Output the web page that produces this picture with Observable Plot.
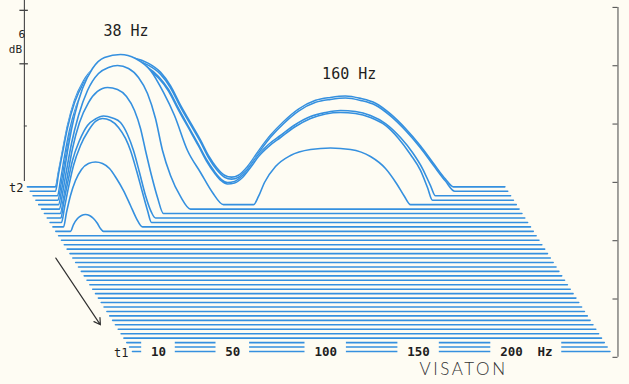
<!DOCTYPE html>
<html><head><meta charset="utf-8">
<script src="https://cdn.jsdelivr.net/npm/d3@7"></script>
<script src="https://cdn.jsdelivr.net/npm/@observablehq/plot@0.6"></script>
<style>
html,body{margin:0;padding:0;background:#fefcf3;}
#chart svg{display:block}
#chart svg text{font-feature-settings:"zero" 1;font-variant-numeric:slashed-zero;}
</style></head><body><div id="chart"></div>
<script>
// ---------- data (frequency in Hz, level in dB above each slice's floor) ----------
const sliceCount = 38;            // time slices, t1 (front) ... t2 (back)
const freqSpan = [-4, 253];       // frequency span of every slice
// slices counted from the back (t2); the rest are flat
const backSlice0 = [[11.1,0],[12.7,1.5],[14.9,3.7],[17.6,6.3],[21.4,8.9],[26.2,10.9],[32.7,12.4],[39.7,13.1],[47.2,13.3],[54.2,13.2],[61.2,12.7],[67.6,11.8],[73.0,10.4],[78.4,8.4],[83.8,6.6],[89.2,4.8],[93.5,3.2],[97.8,2.0],[102.1,1.2],[105.9,1.0],[109.6,1.2],[114.5,2.1],[120.4,3.7],[126.8,5.3],[133.8,6.7],[141.9,8.0],[151.1,8.9],[159.1,9.2],[167.2,9.35],[175.3,9.1],[183.4,8.6],[191.4,7.5],[199.5,6.0],[207.6,4.2],[214.6,2.4],[221.0,0.8],[225.3,0]];
const backSlice1 = [[9.6,0],[11.2,1.75],[13.4,3.95],[16.1,6.55],[19.9,9.15],[24.7,11.15],[31.2,12.65],[38.2,13.35],[45.7,13.55],[52.7,13.45],[59.7,12.95],[66.1,12.05],[71.5,10.65],[76.9,8.65],[82.3,6.85],[87.7,5.05],[92.0,3.45],[96.3,2.25],[100.6,1.45],[104.4,1.25],[108.1,1.45],[113.0,2.35],[118.9,3.95],[125.3,5.55],[132.3,6.95],[140.4,8.25],[149.6,9.15],[157.6,9.45],[165.7,9.6],[173.8,9.35],[181.9,8.85],[189.9,7.75],[198.0,6.25],[206.1,4.45],[213.1,2.65],[219.5,1.05],[224.5,0]];
const backSlice2 = [[9.15,0],[10.76,1.57],[12.92,4.04],[15.61,6.71],[19.38,9.28],[24.22,11.34],[30.68,12.78],[37.67,13.61],[44.13,13.81],[51.13,13.71],[57.59,13.19],[63.51,12.27],[68.89,10.93],[74.27,8.98],[79.65,7.12],[85.04,5.27],[89.34,3.73],[93.65,2.49],[97.41,1.67],[100.64,1.36],[104.41,1.47],[108.72,2.08],[113.02,3.11],[117.33,4.24],[122.71,5.27],[129.17,6.2],[137.24,7.33],[145.31,8.15],[153.39,8.56],[161.46,8.77],[169.53,8.67],[177.61,8.26],[185.68,7.43],[193.75,5.99],[200.21,4.45],[205.59,2.8],[209.9,1.05],[212.59,0]];
const backSlice3 = [[7.89,0],[9.5,1.62],[11.66,4.08],[14.35,6.86],[18.12,9.43],[22.96,11.49],[29.15,13.03],[36.15,13.86],[42.6,14.06],[49.6,14.01],[56.06,13.5],[61.98,12.57],[67.36,11.23],[72.74,9.28],[78.13,7.43],[83.51,5.58],[87.81,4.03],[92.12,2.8],[95.89,1.98],[99.11,1.67],[102.88,1.77],[107.19,2.34],[111.49,3.36],[115.8,4.5],[121.18,5.52],[127.64,6.45],[135.71,7.58],[143.79,8.41],[151.86,8.87],[159.93,9.02],[168.0,8.92],[176.08,8.51],[184.15,7.69],[191.15,6.35],[197.61,4.7],[202.99,3.06],[206.75,1.31],[209.44,0]];
const backSlice4 = [[6.63,0],[8.25,1.46],[9.86,3.51],[12.01,6.09],[15.24,9.17],[19.55,11.95],[24.93,14.01],[31.39,15.14],[40.0,15.45],[48.07,15.04],[56.15,13.8],[63.14,11.54],[69.06,9.17],[76.06,5.57],[83.06,3.31],[89.51,1.25],[95.43,0],[111.58,0],[114.27,0.84],[117.5,2.28],[123.42,3.92],[131.49,5.06],[142.26,5.67],[153.02,5.83],[163.79,5.67],[174.55,4.95],[182.62,3.72],[188.54,2.18],[192.85,0.84],[196.08,0]];
const backSlice5 = [[5.64,0],[7.26,1.6],[9.41,3.97],[12.1,6.75],[15.87,9.63],[20.71,12.2],[26.63,13.95],[32.01,14.57],[36.86,14.77],[42.78,14.47],[48.16,13.54],[53.0,11.89],[57.31,9.32],[61.08,6.03],[65.38,3.46],[70.76,1.3],[76.15,0]];
const backSlice6 = [[4.65,0],[6.26,1.55],[8.42,3.91],[11.11,6.69],[14.88,9.37],[19.72,11.42],[24.56,12.56],[29.95,12.97],[35.33,12.76],[40.17,12.04],[44.48,10.6],[47.71,8.75],[50.4,6.49],[53.63,3.91],[56.86,1.65],[60.08,0]];
const backSlice7 = [[3.39,0],[4.74,1.49],[6.89,3.55],[9.58,5.92],[13.35,7.97],[17.65,9.52],[21.96,10.19],[26.26,10.49],[31.11,10.29],[35.41,9.82],[39.18,8.59],[42.41,6.94],[45.64,4.68],[48.87,2.31],[52.1,0.57],[54.25,0]];
const backSlice8 = [[2.13,0],[3.75,1.54],[5.9,3.6],[8.59,5.86],[12.36,7.92],[16.66,9.46],[20.43,10.39],[24.2,10.69],[28.5,10.49],[32.81,9.77],[36.58,8.64],[39.27,7.4],[42.5,5.34],[45.73,3.08],[48.42,1.23],[50.57,0]];
const backSlice9 = [[1.68,0],[3.29,1.48],[5.45,3.23],[8.14,4.77],[11.37,5.91],[15.13,6.52],[18.9,6.68],[22.67,6.52],[26.44,6.01],[30.2,4.98],[33.97,3.74],[37.74,2.2],[40.97,0.86],[44.2,0]];
const backSlice10 = [[3.92,0],[5.53,0.7],[7.69,1.32],[9.84,1.63],[11.99,1.73],[14.14,1.63],[16.3,1.32],[18.45,0.81],[20.06,0.29],[21.68,0]];
const humpSlices = [backSlice0,backSlice1,backSlice2,backSlice3,backSlice4,backSlice5,backSlice6,backSlice7,backSlice8,backSlice9,backSlice10];

const freqTicks = [10, 50, 100, 150, 200];
const freqUnit = "Hz";
const freqUnitAt = 218;
const levelTicks = [-0.6, 5.4, 11.4, 17.4, 23.4, 29.4, 35.4];   // right frame ticks (6 dB steps)
const leftTicks = [23.2, 29.6, 35.1];
const scaleLabel = ["6", "dB"];
const timeLabels = ["t1", "t2"];
const peakLabels = [{text: "38 Hz", f: 38, level: 16.0}, {text: "160 Hz", f: 160, level: 11.6}];
const brand = "VISATON";

// ---------- projection & style ----------
const BG = "#fefcf3", BLUE = "#3590df", INK = "#1e1e1e";
const PXHZ = 1.858, PXDB = 9.72;
const dxHz = 2.84 / PXHZ, dyDb = 4.45 / PXDB;
const back = sliceCount - 1;
const W = 629, H = 384;

const slices = d3.range(sliceCount).map(s => {
  const hump = humpSlices[back - s] || [];
  const pts = [[freqSpan[0], 0], ...hump, [freqSpan[1], 0]];
  return pts.map(([f, L]) => ({X: f - s * dxHz, Y: L + s * dyDb, B: s * dyDb}));
});

const marks = [];
for (let s = back; s >= 0; s--) {
  const rows = slices[s];
  if (humpSlices[back - s]) marks.push(Plot.areaY(rows, {x: "X", y1: "B", y2: "Y", fill: BG, curve: "monotone-x"}));
  marks.push(Plot.line(rows, {x: "X", y: "Y", stroke: BLUE, strokeWidth: 1.6, curve: "monotone-x"}));
}

// bottom frequency labels with blanked background
const tickRows = [...freqTicks.map(f => ({f, text: String(f)})), {f: freqUnitAt, text: freqUnit}];
marks.push(Plot.rect(tickRows, {
  x1: d => d.f - (d.text.length * 3.9 + 9) / PXHZ,
  x2: d => d.f + (d.text.length * 3.9 + 9) / PXHZ,
  y1: () => -0.9, y2: () => 1.12, fill: BG
}));
marks.push(Plot.text(tickRows, {x: "f", y: () => 0, text: "text", fontFamily: "DejaVu Sans Mono", fontSize: 12.5, fontWeight: 600, fill: INK, dy: 0.5}));

// time labels
marks.push(Plot.text([{t: timeLabels[0], s: 0}, {t: timeLabels[1], s: back}], {
  x: d => freqSpan[0] - d.s * dxHz, y: d => d.s * dyDb, text: "t",
  textAnchor: "end", dx: -4, dy: 1.5, fontFamily: "DejaVu Sans Mono", fontSize: 12, fill: INK
}));

// peak labels (placed above back slice)
marks.push(Plot.text([peakLabels[0]], {x: d => d.f - back * dxHz, y: d => d.level + back * dyDb, text: "text",
  textAnchor: "start", dx: -2, fontFamily: "DejaVu Sans Mono", fontSize: 15, fill: INK}));
marks.push(Plot.text([peakLabels[1]], {x: d => d.f - back * dxHz, y: d => d.level + back * dyDb, text: "text",
  textAnchor: "start", dx: -10, fontFamily: "DejaVu Sans Mono", fontSize: 15, fill: INK}));

// left level axis at the back slice
const leftX = freqSpan[0] - back * dxHz - 3 / PXHZ;
marks.push(Plot.ruleX([leftX], {y1: 17.5, y2: 36.2, stroke: "#444", strokeWidth: 1.1}));
marks.push(Plot.ruleY(leftTicks.slice(1), {y: d => d, x1: leftX - 4.5 / PXHZ, x2: leftX + 4 / PXHZ, stroke: "#444", strokeWidth: 1.3}));
marks.push(Plot.ruleY(leftTicks.slice(0, 1), {y: d => d, x1: leftX, x2: leftX + 3 / PXHZ, stroke: "#444"}));
marks.push(Plot.text([scaleLabel[0]], {x: leftX - 2.5 / PXHZ, y: 32.6, text: d => d, fontFamily: "DejaVu Sans Mono", fontSize: 11, fill: INK}));
marks.push(Plot.text([scaleLabel[1]], {x: leftX - 9 / PXHZ, y: 31.1, text: d => d, fontFamily: "DejaVu Sans Mono", fontSize: 11, fill: INK}));

// right frame axis
const rightX = freqSpan[1] + 8 / PXHZ;
marks.push(Plot.ruleX([rightX], {y1: levelTicks[0], y2: levelTicks[levelTicks.length - 1], stroke: "#555", strokeWidth: 1.1}));
marks.push(Plot.ruleY(levelTicks, {y: d => d, x1: rightX - 5 / PXHZ, x2: rightX, stroke: "#555", strokeWidth: 1.1}));

// time arrow, parallel to the slice edge
marks.push(Plot.arrow([{a: 21, b: 6}], {
  x1: d => freqSpan[0] - d.a * dxHz - 17 / PXHZ, y1: d => d.a * dyDb,
  x2: d => freqSpan[0] - d.b * dxHz - 15 / PXHZ, y2: d => d.b * dyDb,
  stroke: "#333", strokeWidth: 1.2, headLength: 9
}));

// brand
marks.push(Plot.text([brand], {x: 174.2, y: -1.85, text: d => d, fontFamily: "Lato, DejaVu Sans", fontWeight: 300, fontSize: 17, fill: "#333"}));

const svg = Plot.plot({
  width: W, height: H,
  marginTop: 0, marginRight: 0, marginBottom: 0, marginLeft: 0,
  x: {domain: [-139.4 / PXHZ, (W - 139.4) / PXHZ], axis: null},
  y: {domain: [(351 - H) / PXDB, 351 / PXDB], axis: null},
  style: {background: BG},
  marks
});
d3.select(svg).selectAll("text").filter(function () { return this.textContent === brand; })
  .style("letter-spacing", "2.6px");
document.getElementById("chart").appendChild(svg);
</script></body></html>
